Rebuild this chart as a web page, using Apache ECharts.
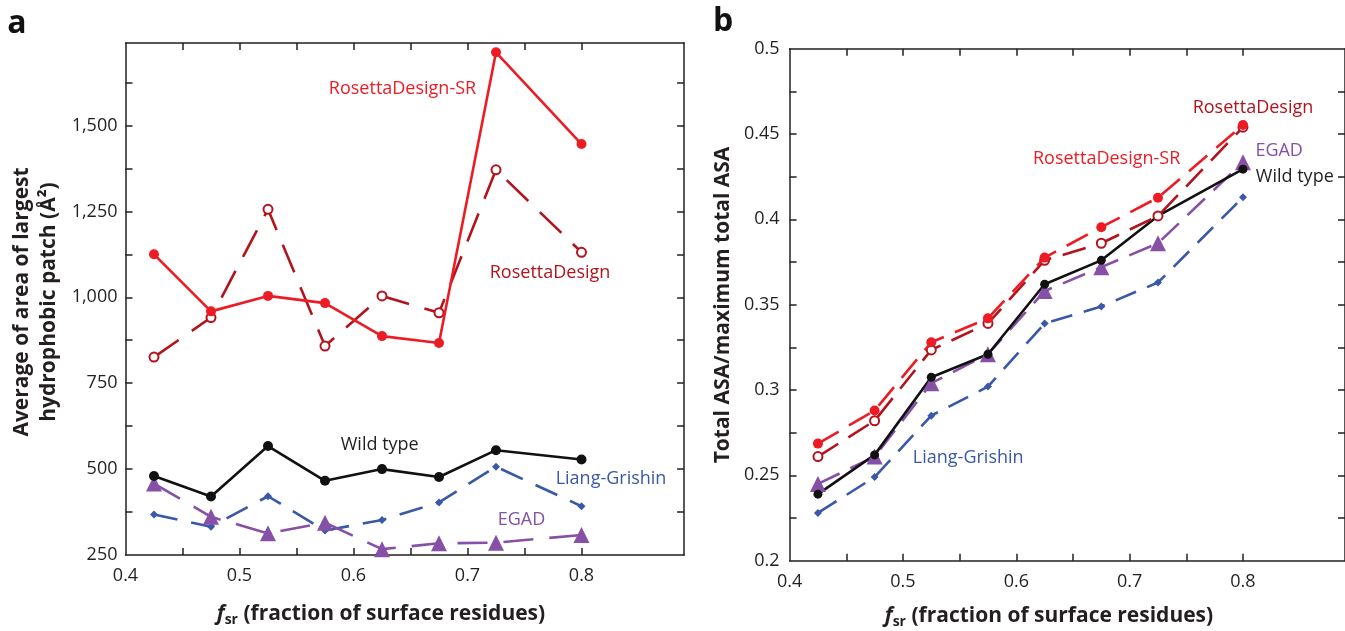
<!DOCTYPE html>
<html>
<head>
<meta charset="utf-8">
<script src="https://cdn.jsdelivr.net/npm/echarts@6/dist/echarts.min.js"></script>
<style>
  html, body { margin: 0; padding: 0; background: #fff; }
  #chart { width: 1345px; height: 631px; }
</style>
</head>
<body>
<div id="chart"></div>
<script>
// Fraction of surface residues (shared x positions of both panels)
const fsr = [0.425, 0.475, 0.525, 0.575, 0.625, 0.675, 0.725, 0.8];

// Panel a: average area of the largest hydrophobic patch (Å²)
const patchRosettaSR = [1125, 959, 1004, 983, 887, 867, 1713, 1446];
const patchRosetta   = [826, 941, 1256, 858, 1004, 955, 1371, 1131];
const patchWildType  = [480, 420, 567, 466, 500, 477, 555, 528];
const patchLiang     = [368, 332, 421, 321, 352, 403, 507, 392];
const patchEGAD      = [458, 361, 313, 344, 267, 284, 286, 308];

// Panel b: total ASA / maximum total ASA
const asaRosettaSR = [0.2686, 0.288, 0.328, 0.342, 0.3776, 0.3954, 0.4127, 0.4553];
const asaRosetta   = [0.261, 0.282, 0.3235, 0.339, 0.376, 0.386, 0.402, 0.454];
const asaWildType  = [0.239, 0.262, 0.3075, 0.321, 0.362, 0.376, 0.402, 0.4294];
const asaEGAD      = [0.245, 0.261, 0.304, 0.321, 0.358, 0.372, 0.386, 0.4335];
const asaLiang     = [0.228, 0.249, 0.285, 0.302, 0.339, 0.349, 0.363, 0.413];

// Tick positions and labels
const xTickValues  = [0.45, 0.5, 0.55, 0.6, 0.65, 0.7, 0.75, 0.8];
const xLabelValues = [0.4, 0.5, 0.6, 0.7, 0.8];
const yTickValuesA  = [375, 500, 625, 750, 875, 1000, 1125, 1250, 1375, 1500, 1625];
const yLabelValuesA = [250, 500, 750, 1000, 1250, 1500];
const yTickValuesB  = [0.225, 0.25, 0.275, 0.3, 0.325, 0.35, 0.375, 0.4, 0.425, 0.45, 0.475];
const yLabelValuesB = [0.2, 0.25, 0.3, 0.35, 0.4, 0.45, 0.5];

const FONT = "'Open Sans', sans-serif";
const INK = '#231f20';
const C_SR = '#ed1c24';
const C_RD = '#b3131c';
const C_WT = '#111111';
const C_LG = '#3a58a8';
const C_EG = '#8550a5';

const pairs = ys => fsr.map((x, i) => [x, ys[i]]);
const fmtA = v => Number(v).toLocaleString('en-US');
const fmtB = v => String(+Number(v).toFixed(3));

function frameAxis(grid, pos, min, max, ticks, labels, fmt, margin) {
  return {
    type: 'value', gridIndex: grid, position: pos, min: min, max: max,
    axisLine: { show: true, onZero: false, lineStyle: { color: INK, width: 1.5 } },
    axisTick: { show: true, inside: true, length: 7, customValues: ticks,
                lineStyle: { color: INK, width: 1.5 } },
    splitLine: { show: false },
    axisLabel: { show: !!labels, customValues: labels || ticks, formatter: fmt,
                 margin: margin, fontFamily: FONT, fontSize: 18, color: INK }
  };
}

function mkSeries(grid, data, color, opts) {
  return {
    type: 'line', animation: false,
    xAxisIndex: grid * 2, yAxisIndex: grid * 2,
    data: pairs(data),
    symbol: opts.symbol, symbolSize: opts.size,
    itemStyle: { color: color, borderColor: color, borderWidth: opts.border || 0 },
    lineStyle: { color: color, width: 2.6, type: opts.dash || 'solid' },
    z: opts.z || 3
  };
}

const fmtX = v => String(+Number(v).toFixed(2));

const option = {
  animation: false,
  backgroundColor: '#ffffff',
  grid: [
    { left: 125.5, top: 43, width: 558.6, height: 512 },
    { left: 789.6, top: 48.7, width: 557.9, height: 512 }
  ],
  xAxis: [
    frameAxis(0, 'bottom', 0.4, 0.89, xTickValues, xLabelValues, fmtX, 12),
    frameAxis(0, 'top', 0.4, 0.89, xTickValues, null, null, 8),
    frameAxis(1, 'bottom', 0.4, 0.89, xTickValues, xLabelValues, fmtX, 12),
    frameAxis(1, 'top', 0.4, 0.89, xTickValues, null, null, 8)
  ],
  yAxis: [
    frameAxis(0, 'left', 250, 1740, yTickValuesA, yLabelValuesA, fmtA, 8),
    frameAxis(0, 'right', 250, 1740, yTickValuesA, null, null, 8),
    frameAxis(1, 'left', 0.2, 0.5, yTickValuesB, yLabelValuesB, fmtB, 10),
    frameAxis(1, 'right', 0.2, 0.5, yTickValuesB, null, null, 8)
  ],
  series: [
    // panel a
    mkSeries(0, patchLiang, C_LG, { symbol: 'diamond', size: 8, dash: [24, 14] }),
    mkSeries(0, patchEGAD, C_EG, { symbol: 'triangle', size: 16, dash: [30, 16] }),
    mkSeries(0, patchWildType, C_WT, { symbol: 'circle', size: 10 }),
    mkSeries(0, patchRosetta, C_RD, { symbol: 'emptyCircle', size: 9, border: 2.4, dash: [30, 16] }),
    mkSeries(0, patchRosettaSR, C_SR, { symbol: 'circle', size: 10, z: 4 }),
    // panel b
    mkSeries(1, asaLiang, C_LG, { symbol: 'diamond', size: 8, dash: [22, 12] }),
    mkSeries(1, asaEGAD, C_EG, { symbol: 'triangle', size: 16, dash: [24, 12] }),
    mkSeries(1, asaWildType, C_WT, { symbol: 'circle', size: 9 }),
    mkSeries(1, asaRosetta, C_RD, { symbol: 'emptyCircle', size: 9, border: 2.4, dash: [24, 12] }),
    mkSeries(1, asaRosettaSR, C_SR, { symbol: 'circle', size: 10, dash: [24, 12], z: 4 })
  ]
};

const chart = echarts.init(document.getElementById('chart'), null, { renderer: 'canvas' });
chart.setOption(option);

// Series name tags, anchored in data space of each panel
const seriesTags = [
  { grid: 0, text: 'RosettaDesign-SR', at: [0.643, 1607], color: C_SR },
  { grid: 0, text: 'RosettaDesign',    at: [0.7724, 1071], color: C_RD },
  { grid: 0, text: 'Wild type',        at: [0.623, 570],   color: INK },
  { grid: 0, text: 'Liang-Grishin',    at: [0.8259, 471],  color: C_LG },
  { grid: 0, text: 'EGAD',             at: [0.7474, 352],  color: C_EG },
  { grid: 1, text: 'RosettaDesign',    at: [0.8088, 0.4651], color: C_RD },
  { grid: 1, text: 'RosettaDesign-SR', at: [0.6797, 0.4352], color: C_SR },
  { grid: 1, text: 'EGAD',             at: [0.8319, 0.440],  color: C_EG },
  { grid: 1, text: 'Wild type',        at: [0.8457, 0.425],  color: INK },
  { grid: 1, text: 'Liang-Grishin',    at: [0.5576, 0.260],  color: C_LG }
];

const graphics = seriesTags.map(t => {
  const p = chart.convertToPixel({ gridIndex: t.grid }, t.at);
  return {
    type: 'text', x: p[0], y: p[1], z: 10,
    style: { text: t.text, fill: t.color, font: '18px ' + FONT,
             align: 'center', verticalAlign: 'middle' }
  };
});

const xTitleRich = {
  f: { fontFamily: FONT, fontSize: 21, fontWeight: 'bold', fontStyle: 'italic', fill: INK },
  s: { fontFamily: FONT, fontSize: 14, fontWeight: 'bold', fill: INK, padding: [13, 0, 0, 0] },
  t: { fontFamily: FONT, fontSize: 21, fontWeight: 'bold', fill: INK }
};

function xTitle(cx, cy) {
  return {
    type: 'text', x: cx, y: cy, z: 10,
    style: { text: '{f|f}{s|sr}{t| (fraction of surface residues)}', rich: xTitleRich,
             align: 'center', verticalAlign: 'middle' }
  };
}

function yTitle(cx, cy, text) {
  return {
    type: 'text', x: cx, y: cy, rotation: Math.PI / 2, z: 10,
    style: { text: text, fill: INK, fontFamily: FONT, fontSize: 21, fontWeight: 'bold',
             lineHeight: 27, align: 'center', verticalAlign: 'middle' }
  };
}

function panelLetter(cx, cy, text) {
  return {
    type: 'text', x: cx, y: cy, z: 10,
    style: { text: text, fill: '#111', fontFamily: FONT, fontSize: 32, fontWeight: 'bold',
             align: 'center', verticalAlign: 'middle' }
  };
}

graphics.push(
  xTitle(381, 614),
  xTitle(1049, 616),
  yTitle(36, 302, 'Average of area of largest\nhydrophobic patch (Å²)'),
  yTitle(723, 305, 'Total ASA/maximum total ASA'),
  panelLetter(17, 24, 'a'),
  panelLetter(723, 22, 'b')
);

chart.setOption({ graphic: graphics });
</script>
</body>
</html>
